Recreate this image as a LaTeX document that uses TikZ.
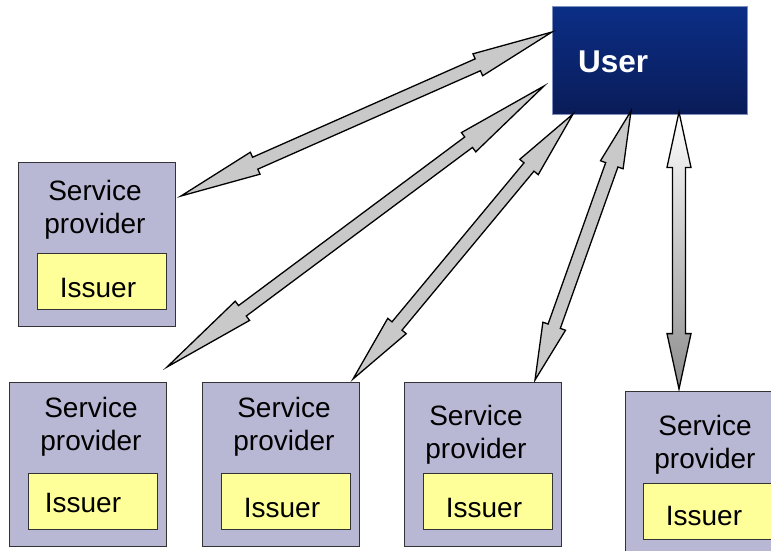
\documentclass[tikz,border=0pt]{standalone}
\usepackage{fontspec}
\setmainfont{Liberation Sans}
\usetikzlibrary{calc}
\definecolor{spfill}{HTML}{B8B8D5}
\definecolor{issfill}{HTML}{FFFF99}
\definecolor{usertop}{HTML}{0B2E86}
\definecolor{userbot}{HTML}{0A1C58}
\definecolor{userline}{HTML}{7F8FBF}
\definecolor{arrfill}{HTML}{C9C9C9}
\tikzset{
  spbox/.style={draw=black!80, line width=1.3pt, fill=spfill, minimum width=157pt, minimum height=164pt, anchor=north west, inner sep=0pt},
  issbox/.style={draw=black!80, line width=1.1pt, fill=issfill, minimum width=129pt, minimum height=56pt, anchor=north west, inner sep=0pt},
  lbl/.style={font=\fontsize{28pt}{28pt}\selectfont, anchor=base, inner sep=0pt, text=black},
  userbox/.style={draw=userline, line width=0.8pt, top color=usertop, bottom color=userbot, minimum width=195pt, minimum height=108pt, anchor=north west, inner sep=0pt},
  usertxt/.style={font=\fontsize{31.5pt}{31.5pt}\selectfont\bfseries, text=white, anchor=base west, inner sep=0pt},
  darrow/.style={draw=black, line width=1.3pt, line join=miter, fill=arrfill},
  varrow/.style={draw=black, line width=1.3pt, line join=miter, top color=white, bottom color=black!45},
}
% #1 style, #2 start coordinate, #3 end coordinate
\newcommand\blockarrow[3]{%
  \draw[#1] (#2)
    -- ($(#2)!0.2!(#3)!12pt!90:(#3)$)
    -- ($(#2)!0.2!(#3)!6.5pt!90:(#3)$)
    -- ($(#3)!0.2!(#2)!6.5pt!-90:(#2)$)
    -- ($(#3)!0.2!(#2)!12pt!-90:(#2)$)
    -- (#3)
    -- ($(#3)!0.2!(#2)!12pt!90:(#2)$)
    -- ($(#3)!0.2!(#2)!6.5pt!90:(#2)$)
    -- ($(#2)!0.2!(#3)!6.5pt!-90:(#3)$)
    -- ($(#2)!0.2!(#3)!12pt!-90:(#3)$)
    -- cycle;}
% #1 name, #2 x, #3 y, #4 service dx, #5 service baseline dy, #6 issuer dx, #7 issuer baseline dy, #8 issuer box dx, #9 issuer box dy
\newcommand\spblock[9]{%
  \node[spbox] (#1) at (#2,#3) {};
  \node[issbox] (#1iss) at ($(#1.north west)+(#8,#9)$) {};
  \node[lbl] (#1t1) at ($(#1.north west)+(#4,#5)$) {Service};
  \node[lbl] (#1t2) at ($(#1.north west)+(#4,#5+33)$) {provider};
  \node[lbl] (#1t3) at ($(#1.north west)+(#6,#7)$) {Issuer};}
\begin{document}
\begin{tikzpicture}[x=1pt,y=-1pt]
\useasboundingbox (0,0) rectangle (771,551);
\clip (0,0) rectangle (771,551);
% user
\node[userbox] (user) at (552,6) {};
\node[usertxt] (usertext) at (578,73) {User};
% service providers
\spblock{sp1}{18}{162}{77}{38}{80}{135}{19}{91}
\spblock{sp2}{9}{382}{82}{35}{74}{130}{19}{91}
\spblock{sp3}{202}{382}{82}{35}{80}{135}{19}{91}
\spblock{sp4}{404}{382}{72}{43}{80}{135}{19}{91}
\spblock{sp5}{625}{391}{80}{44}{79}{134}{18}{92}
% arrow end points
\coordinate (a1s) at (181,196);
\coordinate (a1u) at (552,32);
\coordinate (a2s) at (167,367);
\coordinate (a2u) at (544,86);
\coordinate (a3s) at (353,379);
\coordinate (a3u) at (573,114);
\coordinate (a4s) at (535,380);
\coordinate (a4u) at (631,111);
\coordinate (a5s) at (679,389);
\coordinate (a5u) at (679,112);
\blockarrow{darrow}{a1s}{a1u}
\blockarrow{darrow}{a2s}{a2u}
\blockarrow{darrow}{a3s}{a3u}
\blockarrow{darrow}{a4s}{a4u}
\blockarrow{varrow}{a5s}{a5u}
\end{tikzpicture}
\end{document}
